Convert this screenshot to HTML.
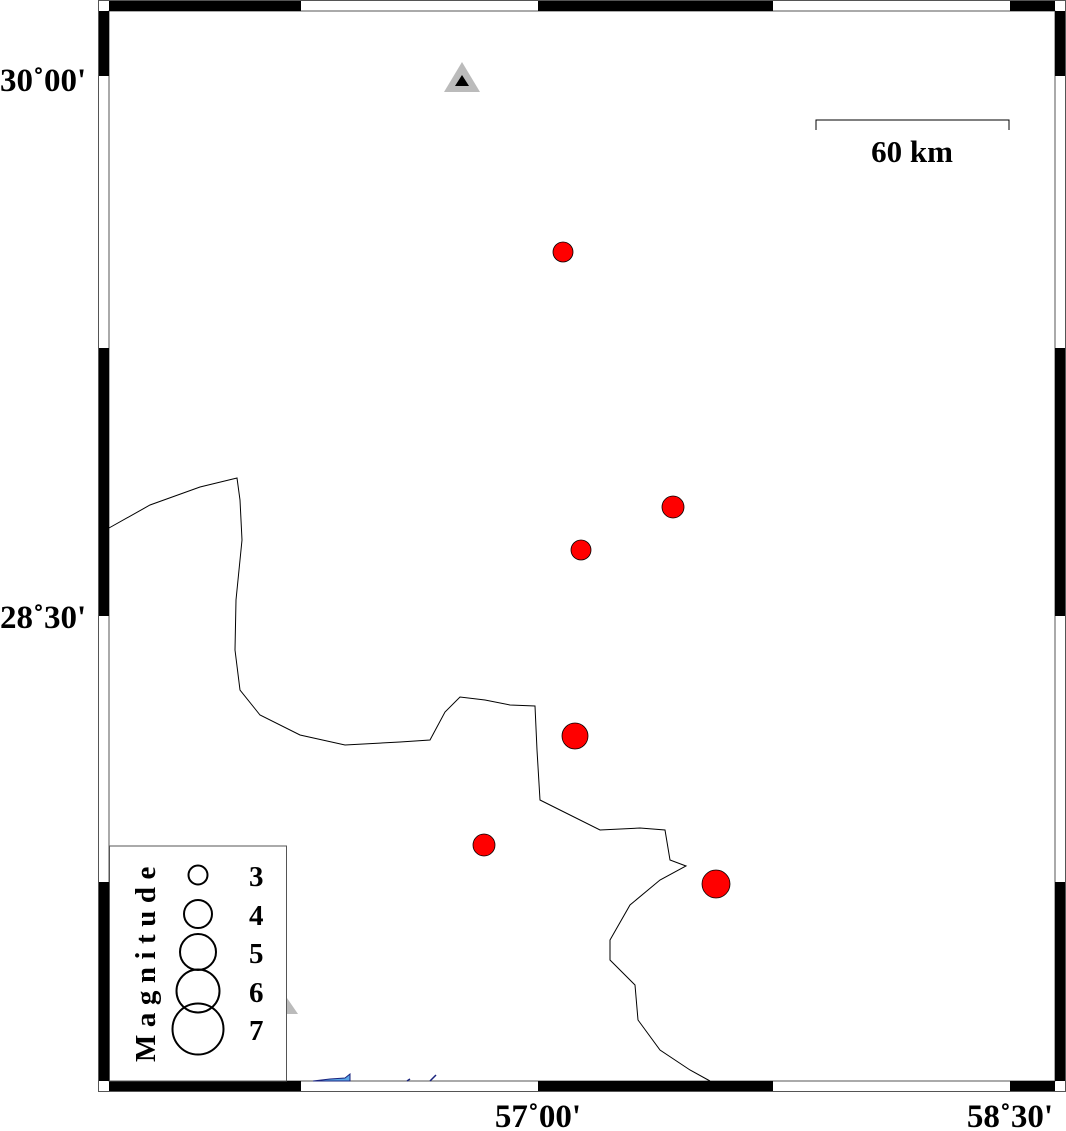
<!DOCTYPE html>
<html><head><meta charset="utf-8"><style>
html,body{margin:0;padding:0;background:#fff;}
svg{display:block;}
text{font-family:"Liberation Serif",serif;font-weight:bold;fill:#000;}
</style></head><body>
<svg width="1066" height="1131" viewBox="0 0 1066 1131" xmlns="http://www.w3.org/2000/svg">
<rect x="0" y="0" width="1066" height="1131" fill="#fff"/>
<rect x="98.5" y="0.5" width="967" height="1091" fill="#fff" stroke="#555" stroke-width="1"/>
<rect x="109" y="11" width="946" height="1070" fill="#fff" stroke="#555" stroke-width="1"/>
<g fill="#000">
<rect x="109" y="1" width="192" height="10"/><rect x="538" y="1" width="235" height="10"/><rect x="1010" y="1" width="45" height="10"/>
<rect x="109" y="1081" width="192" height="10"/><rect x="538" y="1081" width="235" height="10"/><rect x="1010" y="1081" width="45" height="10"/>
<rect x="99" y="11" width="10" height="65"/><rect x="99" y="348" width="10" height="268"/><rect x="99" y="882" width="10" height="199"/>
<rect x="1055" y="11" width="10" height="65"/><rect x="1055" y="348" width="10" height="268"/><rect x="1055" y="882" width="10" height="199"/>
</g>
<path d="M109,528 L150,505 L200,487 L237,478 L240,500 L242,540 L236,600 L235,650 L240,690 L260,715 L300,735 L345,745 L400,742 L430,740 L445,712 L460,697 L485,700 L510,705 L535,706 L537,750 L540,800 L560,810 L600,830 L640,828 L665,830 L670,860 L686,866 L660,880 L630,905 L610,940 L610,960 L635,985 L638,1020 L660,1050 L690,1070 L710,1081" fill="none" stroke="#000" stroke-width="1"/>
<path d="M313,1081 L330,1079 L345,1078 L350,1074 L350,1081 Z" fill="#5aa8e8" stroke="#1a237e" stroke-width="1"/>
<path d="M407,1081 L410,1079 M430,1081 L436,1075" stroke="#1a237e" stroke-width="1.5" fill="none"/>
<polygon points="462,62 444,92 480,92" fill="#bbb"/>
<polygon points="462,75 455,86 469,86" fill="#000"/>
<polygon points="287,998 276,1014 298,1014" fill="#bbb"/>
<path d="M816,130 L816,120 L1009,120 L1009,130" fill="none" stroke="#000" stroke-width="1"/>
<text x="912" y="162" font-size="31" text-anchor="middle">60 km</text>
<g fill="#f00" stroke="#000" stroke-width="0.8">
<circle cx="563" cy="252" r="10"/>
<circle cx="673" cy="507" r="11"/>
<circle cx="581" cy="550" r="10"/>
<circle cx="575" cy="736" r="13"/>
<circle cx="484" cy="845" r="11"/>
<circle cx="716" cy="884" r="14"/>
</g>
<rect x="109.5" y="846" width="177" height="235" fill="#fff" stroke="#555" stroke-width="1"/>
<g fill="none" stroke="#000" stroke-width="2">
<circle cx="198" cy="875" r="9.5"/>
<circle cx="198" cy="914" r="14"/>
<circle cx="198" cy="952" r="18"/>
<circle cx="198" cy="991" r="21.5"/>
<circle cx="198" cy="1029" r="25.5"/>
</g>
<g font-size="29">
<text x="249" y="886">3</text>
<text x="249" y="925">4</text>
<text x="249" y="963">5</text>
<text x="249" y="1002">6</text>
<text x="249" y="1040">7</text>
</g>
<text transform="translate(155,1062) rotate(-90)" font-size="29" letter-spacing="7.5">Magnitude</text>
<text x="0" y="91" font-size="33">30˚00'</text>
<text x="0" y="628" font-size="33">28˚30'</text>
<text x="538" y="1127" font-size="33" text-anchor="middle">57˚00'</text>
<text x="1010" y="1127" font-size="33" text-anchor="middle">58˚30'</text>
</svg>
</body></html>
